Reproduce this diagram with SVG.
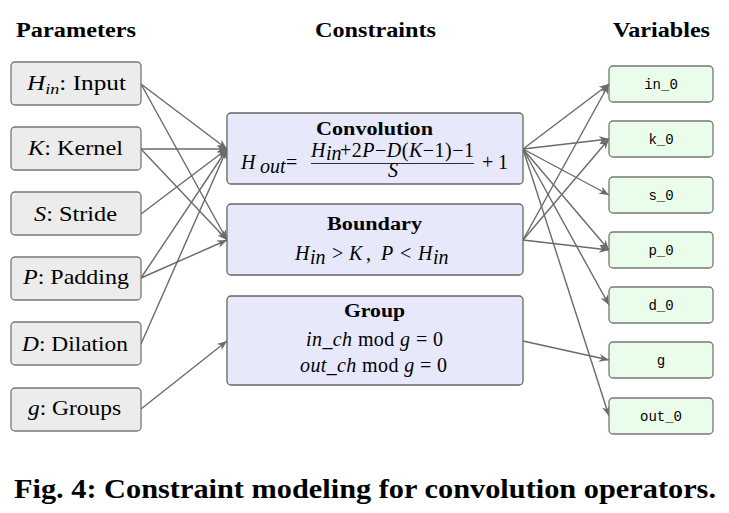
<svg xmlns="http://www.w3.org/2000/svg" width="729" height="513" viewBox="0 0 729 513">
<style>
.hdr{font-family:"Liberation Serif",serif;font-weight:bold;font-size:20px;fill:#000}
.pbox{fill:#ececec;stroke:#777;stroke-width:1.3}
.cbox{fill:#e8e8fb;stroke:#666;stroke-width:1.3}
.vbox{fill:#eafcea;stroke:#777;stroke-width:1.3}
.pt{font-family:"Liberation Serif",serif;font-size:21px;fill:#000}
.ct{font-family:"Liberation Serif",serif;font-size:18px;font-weight:bold;fill:#000}
.m{font-family:"Liberation Serif",serif;font-size:20px;fill:#000}
.i{font-style:italic}
.vt{font-family:"Liberation Mono",monospace;font-size:14px;fill:#000;text-anchor:middle}
.cn line{stroke:#6a6a6a;stroke-width:1.4;marker-end:url(#ah)}
</style>
<defs>
<marker id="ah" viewBox="0 0 10 10" refX="10" refY="5" markerWidth="10" markerHeight="10" markerUnits="userSpaceOnUse" orient="auto">
<path d="M0,1 L10,5 L0,9 L3,5 z" fill="#6a6a6a"/>
</marker>
</defs>
<rect width="729" height="513" fill="#fff"/>
<text class="hdr" x="16" y="37" textLength="120" lengthAdjust="spacingAndGlyphs">Parameters</text>
<text class="hdr" x="315" y="37" textLength="121" lengthAdjust="spacingAndGlyphs">Constraints</text>
<text class="hdr" x="613" y="37" textLength="97" lengthAdjust="spacingAndGlyphs">Variables</text>

<g class="cn">
<line x1="141" y1="84" x2="227" y2="149"/>
<line x1="141" y1="84" x2="227" y2="240"/>
<line x1="141" y1="149" x2="227" y2="149"/>
<line x1="141" y1="149" x2="227" y2="240"/>
<line x1="141" y1="214" x2="227" y2="149"/>
<line x1="141" y1="278" x2="227" y2="149"/>
<line x1="141" y1="278" x2="227" y2="240"/>
<line x1="141" y1="344" x2="227" y2="149"/>
<line x1="141" y1="409" x2="227" y2="341"/>
<line x1="523" y1="149" x2="609" y2="84"/>
<line x1="523" y1="149" x2="609" y2="139"/>
<line x1="523" y1="149" x2="609" y2="195"/>
<line x1="523" y1="149" x2="609" y2="250"/>
<line x1="523" y1="149" x2="609" y2="305"/>
<line x1="523" y1="149" x2="609" y2="416"/>
<line x1="523" y1="240" x2="609" y2="84"/>
<line x1="523" y1="240" x2="609" y2="139"/>
<line x1="523" y1="240" x2="609" y2="250"/>
<line x1="523" y1="341" x2="609" y2="360"/>
</g>

<g id="p-hin"><rect class="pbox" x="11" y="62" width="130" height="43" rx="4"/>
<text class="pt" x="27" y="90" textLength="99" lengthAdjust="spacingAndGlyphs"><tspan class="i">H</tspan><tspan class="i" font-size="15" dy="4">in</tspan><tspan dy="-4">: Input</tspan></text></g>
<g id="p-k"><rect class="pbox" x="11" y="127" width="130" height="43" rx="4"/>
<text class="pt" x="28" y="155" textLength="95" lengthAdjust="spacingAndGlyphs"><tspan class="i">K</tspan>: Kernel</text></g>
<g id="p-s"><rect class="pbox" x="11" y="192" width="130" height="43" rx="4"/>
<text class="pt" x="34" y="221" textLength="83" lengthAdjust="spacingAndGlyphs"><tspan class="i">S</tspan>: Stride</text></g>
<g id="p-p"><rect class="pbox" x="11" y="257" width="130" height="43" rx="4"/>
<text class="pt" x="23" y="284" textLength="106" lengthAdjust="spacingAndGlyphs"><tspan class="i">P</tspan>: Padding</text></g>
<g id="p-d"><rect class="pbox" x="11" y="322" width="130" height="43" rx="4"/>
<text class="pt" x="22" y="351" textLength="106" lengthAdjust="spacingAndGlyphs"><tspan class="i">D</tspan>: Dilation</text></g>
<g id="p-g"><rect class="pbox" x="11" y="388" width="130" height="43" rx="4"/>
<text class="pt" x="28" y="415" textLength="93" lengthAdjust="spacingAndGlyphs"><tspan class="i">g</tspan>: Groups</text></g>

<g id="c-conv"><rect class="cbox" x="227" y="113" width="296" height="71" rx="4"/>
<text class="ct" x="316" y="135" textLength="117" lengthAdjust="spacingAndGlyphs">Convolution</text>
<text class="m i" x="241" y="169">H</text>
<text class="m i" x="260" y="173" font-size="14">out</text>
<text class="m" x="286" y="169">=</text>
<text class="m i" x="311" y="157" font-size="15">H</text>
<text class="m i" x="326" y="160" font-size="10">in</text>
<text class="m" x="340" y="157" font-size="15" textLength="134" lengthAdjust="spacing">+2<tspan class="i">P</tspan>−<tspan class="i">D</tspan>(<tspan class="i">K</tspan>−1)−1</text>
<line x1="311" y1="163.5" x2="474" y2="163.5" stroke="#000" stroke-width="0.8"/>
<text class="m i" x="393" y="177" font-size="14" text-anchor="middle">S</text>
<text class="m" x="482" y="169">+</text>
<text class="m" x="498" y="169">1</text></g>

<g id="c-bound"><rect class="cbox" x="227" y="204" width="296" height="71" rx="4"/>
<text class="ct" x="327" y="230" textLength="95" lengthAdjust="spacingAndGlyphs">Boundary</text>
<text class="m i" x="295" y="260">H</text>
<text class="m i" x="310" y="264" font-size="15">in</text>
<text class="m" x="332" y="260">&gt;</text>
<text class="m i" x="349" y="260">K</text>
<text class="m" x="366" y="260">,</text>
<text class="m i" x="381" y="260">P</text>
<text class="m" x="400" y="260">&lt;</text>
<text class="m i" x="418" y="260">H</text>
<text class="m i" x="433" y="264" font-size="15">in</text></g>

<g id="c-group"><rect class="cbox" x="227" y="296" width="296" height="89" rx="4"/>
<text class="ct" x="344" y="317" textLength="61" lengthAdjust="spacingAndGlyphs">Group</text>
<text class="m" x="306" y="346" textLength="137" lengthAdjust="spacing"><tspan class="i">in_ch</tspan> mod <tspan class="i">g</tspan> = 0</text>
<text class="m" x="300" y="372" textLength="147" lengthAdjust="spacing"><tspan class="i">out_ch</tspan> mod <tspan class="i">g</tspan> = 0</text></g>

<g id="v-in"><rect class="vbox" x="609" y="66" width="104" height="36" rx="4"/><text class="vt" x="661" y="89">in_0</text></g>
<g id="v-k"><rect class="vbox" x="609" y="121" width="104" height="36" rx="4"/><text class="vt" x="661" y="144">k_0</text></g>
<g id="v-s"><rect class="vbox" x="609" y="177" width="104" height="36" rx="4"/><text class="vt" x="661" y="200">s_0</text></g>
<g id="v-p"><rect class="vbox" x="609" y="232" width="104" height="36" rx="4"/><text class="vt" x="661" y="255">p_0</text></g>
<g id="v-d"><rect class="vbox" x="609" y="287" width="104" height="36" rx="4"/><text class="vt" x="661" y="310">d_0</text></g>
<g id="v-g"><rect class="vbox" x="609" y="342" width="104" height="36" rx="4"/><text class="vt" x="661" y="365">g</text></g>
<g id="v-out"><rect class="vbox" x="609" y="398" width="104" height="36" rx="4"/><text class="vt" x="661" y="421">out_0</text></g>

<text x="14" y="498" font-family="Liberation Serif, serif" font-weight="bold" font-size="27" textLength="702" lengthAdjust="spacingAndGlyphs">Fig. 4: Constraint modeling for convolution operators.</text>
</svg>
